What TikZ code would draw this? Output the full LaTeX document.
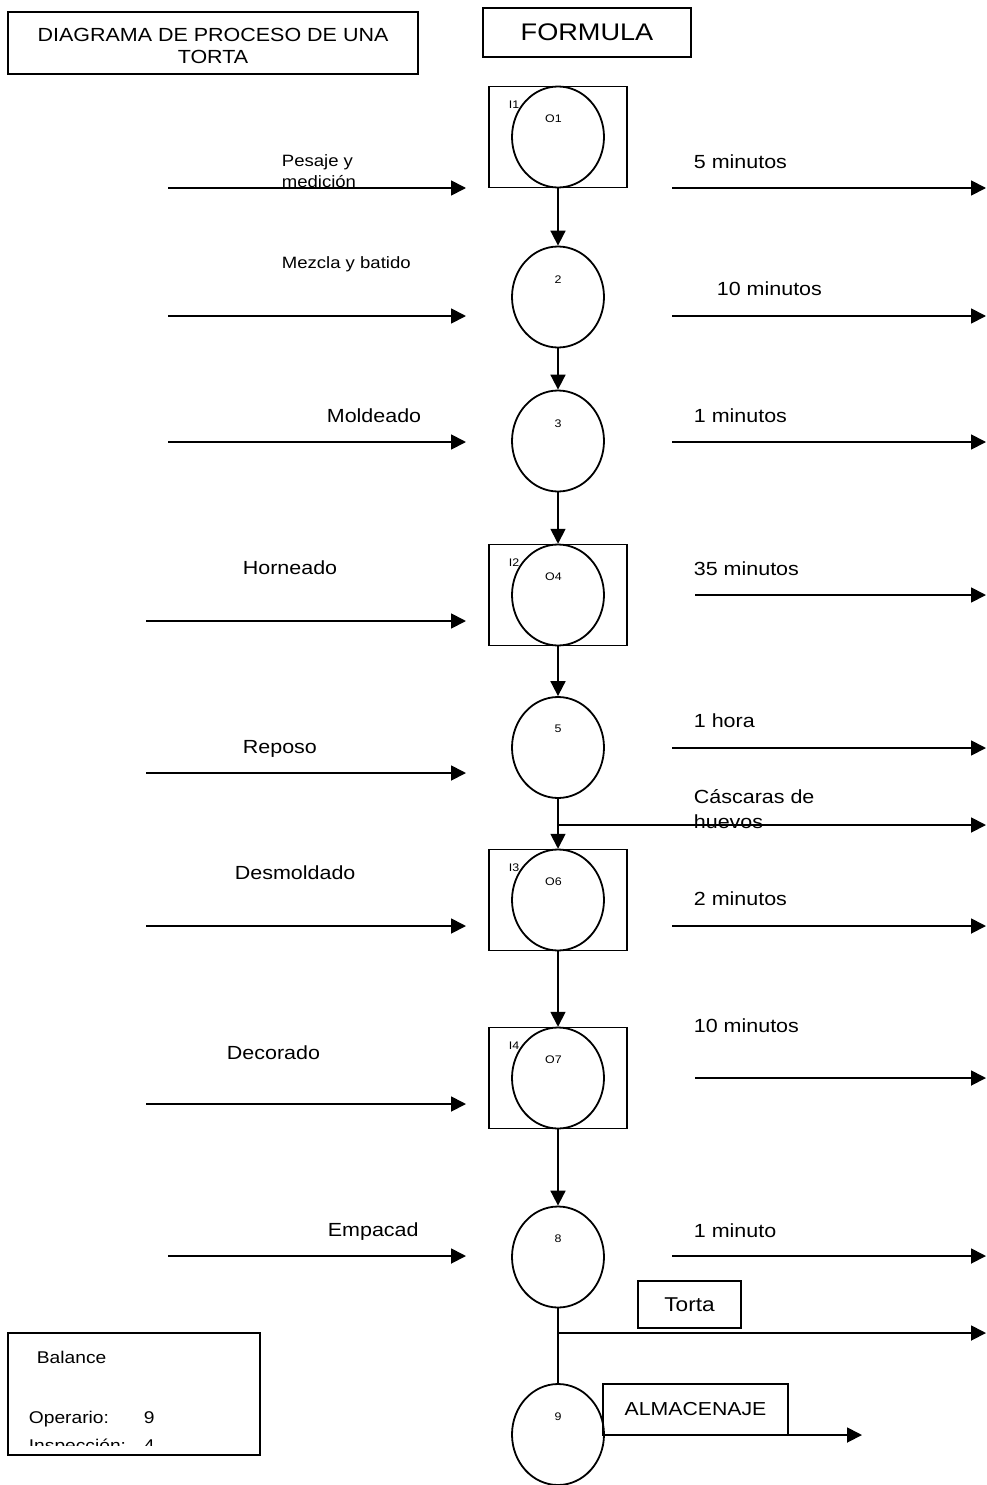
\documentclass[tikz,border=0pt]{standalone}
\usepackage{fontspec}
\setmainfont{Liberation Sans}[FakeStretch=1.13]
\usetikzlibrary{shapes.geometric,arrows.meta}
\begin{document}
\begin{tikzpicture}[x=1pt,y=-1pt,
  line width=1.8pt,
  arr/.style={-{Triangle[length=15pt,width=15pt]}},
  op/.style={ellipse,draw,line width=1.8pt,minimum width=92pt,minimum height=101pt,inner sep=0pt},
  insp/.style={rectangle,draw,line width=1.5pt,minimum width=138pt,minimum height=101pt,inner sep=0pt},
  box/.style={rectangle,draw,line width=1.5pt,inner sep=0pt},
  lab/.style={anchor=base west,inner sep=0pt,font=\fontsize{19}{22}\selectfont},
  slab/.style={anchor=base west,inner sep=0pt,font=\fontsize{16.4}{19}\selectfont},
  num/.style={inner sep=0pt,font=\fontsize{11}{13}\selectfont},
  blab/.style={anchor=base west,inner sep=0pt,font=\fontsize{17}{20}\selectfont}
]
\useasboundingbox (0,0) rectangle (987,1485);
\fill[white] (0,0) rectangle (987,1485);

% title boxes
\node[box,minimum width=410pt,minimum height=62pt] (title) at (213,43) {};
\node[inner sep=0pt,align=center,font=\fontsize{19}{22}\selectfont] (titletxt) at (213,46) {DIAGRAMA DE PROCESO DE UNA\\TORTA};
\node[box,minimum width=208pt,minimum height=49pt,font=\fontsize{24}{28}\selectfont] (formula) at (587,32.5) {FORMULA};

% inspection rectangles
\node[insp] (r1) at (558,137) {};
\node[insp] (r4) at (558,595) {};
\node[insp] (r6) at (558,900) {};
\node[insp] (r7) at (558,1078) {};

% operation circles
\node[op] (c1) at (558,137) {};
\node[op] (c2) at (558,297) {};
\node[op] (c3) at (558,441) {};
\node[op] (c4) at (558,595) {};
\node[op] (c5) at (558,747.5) {};
\node[op] (c6) at (558,900) {};
\node[op] (c7) at (558,1078) {};
\node[op] (c8) at (558,1257) {};
\node[op] (c9) at (558,1434.5) {};

% labels in shapes
\node[num] (i1) at (514,105) {I1};
\node[num] (o1) at (553.5,119) {O1};
\node[num] (n2) at (558,280) {2};
\node[num] (n3) at (558,424) {3};
\node[num] (i2) at (514,563) {I2};
\node[num] (o4) at (553.5,577) {O4};
\node[num] (n5) at (558,729) {5};
\node[num] (i3) at (514,868) {I3};
\node[num] (o6) at (553.5,882) {O6};
\node[num] (i4) at (514,1046) {I4};
\node[num] (o7) at (553.5,1060) {O7};
\node[num] (n8) at (558,1239) {8};
\node[num] (n9) at (558,1417) {9};

% vertical flow
\draw[arr] (c1.south) -- (c2.north);
\draw[arr] (c2.south) -- (c3.north);
\draw[arr] (c3.south) -- (r4.north);
\draw[arr] (c4.south) -- (c5.north);
\draw[arr] (c5.south) -- (r6.north);
\draw[arr] (c6.south) -- (r7.north);
\draw[arr] (c7.south) -- (c8.north);
\draw (c8.south) -- (c9.north);

% left inputs
\foreach \n/\xs/\y in {1/168/188, 2/168/316, 3/168/442, 4/146/621, 5/146/773, 6/146/926, 7/146/1104, 8/168/1256}{
  \coordinate (ls\n) at (\xs,\y);
  \coordinate (le\n) at (466,\y);
  \draw[arr] (ls\n) -- (le\n);
}
\node[slab] (pes1) at (281,166) {Pesaje y};
\node[slab] (pes2) at (281,187) {medición};
\node[slab] (mez) at (281,268) {Mezcla y batido};
\node[lab] (mol) at (326,422) {Moldeado};
\node[lab] (hor) at (242,574) {Horneado};
\node[lab] (rep) at (242,753) {Reposo};
\node[lab] (des) at (234,879) {Desmoldado};
\node[lab] (dec) at (226,1059) {Decorado};
\node[lab] (emp) at (327,1236) {Empacad};

% right outputs
\foreach \n/\xs/\y in {1/672/188, 2/672/316, 3/672/442, 4/695/595, 5/672/748, 6/672/926, 7/695/1078, 8/672/1256}{
  \coordinate (rs\n) at (\xs,\y);
  \coordinate (re\n) at (986,\y);
  \draw[arr] (rs\n) -- (re\n);
}
\node[lab] (t1) at (693,168) {5 minutos};
\node[lab] (t2) at (716,295) {10 minutos};
\node[lab] (t3) at (693,422) {1 minutos};
\node[lab] (t4) at (693,575) {35 minutos};
\node[lab] (t5) at (693,727) {1 hora};
\node[lab] (t6) at (693,905) {2 minutos};
\node[lab] (t7) at (693,1032) {10 minutos};
\node[lab] (t8) at (693,1237) {1 minuto};

% eggshell branch
\coordinate (b5) at (558,825);
\coordinate (b5e) at (986,825);
\draw[arr] (b5) -- (b5e);
\node[lab] (cas1) at (693,803) {Cáscaras de};
\node[lab] (cas2) at (693,828) {huevos};

% product branch
\coordinate (b8) at (558,1333);
\coordinate (b8e) at (986,1333);
\draw[arr] (b8) -- (b8e);
\node[box,minimum width=103pt,minimum height=47pt,font=\fontsize{20}{24}\selectfont] (torta) at (689.5,1304.5) {Torta};

% storage
\node[box,minimum width=185pt,minimum height=51pt,font=\fontsize{18.8}{22}\selectfont] (alm) at (695.5,1409.5) {ALMACENAJE};
\coordinate (as) at (604,1435);
\coordinate (ae) at (862,1435);
\draw[arr] (as) -- (ae);

% balance
\node[box,minimum width=252pt,minimum height=122pt] (bal) at (134,1394) {};
\begin{scope}
  \clip (8,1333) rectangle (260,1445);
  \node[blab] (bal1) at (36,1363) {Balance};
  \node[blab] (bal2) at (28,1423) {\makebox[115pt][l]{Operario:}9};
  \node[blab] (bal3) at (28,1451) {\makebox[115pt][l]{Inspección:}4};
\end{scope}
\end{tikzpicture}
\end{document}
